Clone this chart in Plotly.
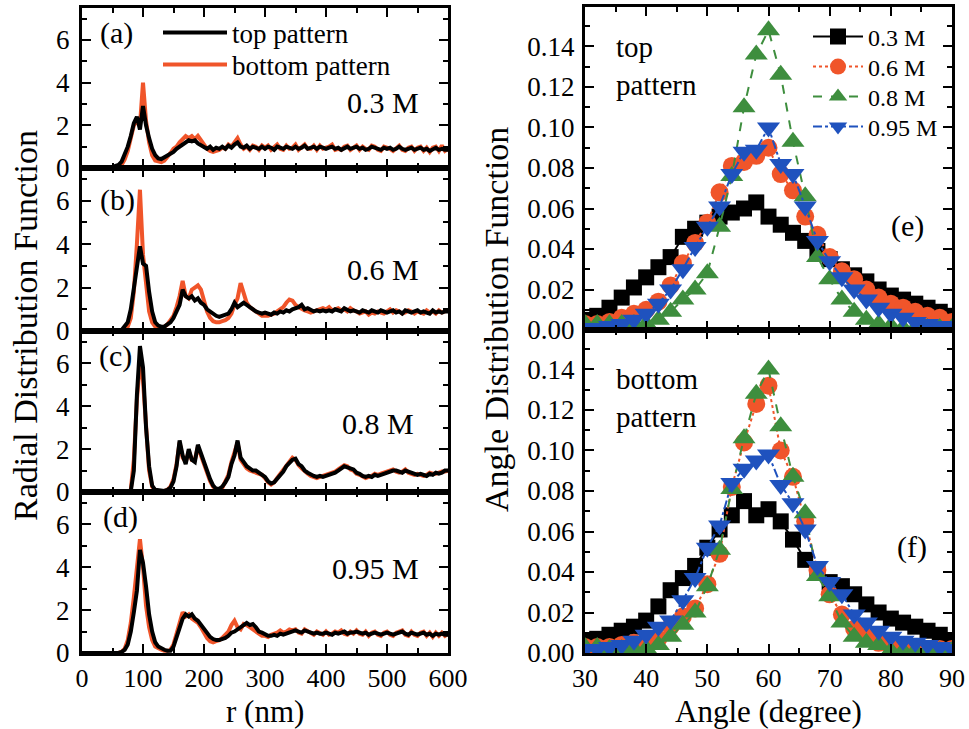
import plotly.graph_objects as go

W, H = 969, 729

# ---------------- data: radial distribution functions (r every 5 nm) ----------------
r_nm = list(range(0, 601, 5))

top_03 = [0, 0, 0, 0, 0, 0, 0, 0, 0, 0.02,
          0.05, 0.1, 0.15, 0.3, 0.6, 1.0, 1.5, 2.1, 2.4, 1.8,
          2.9, 2.0, 1.4, 0.9, 0.6, 0.45, 0.42, 0.5, 0.55, 0.65,
          0.75, 0.9, 1.0, 1.1, 1.2, 1.3, 1.25, 1.3, 1.15, 1.05,
          0.95, 0.9, 1.0, 0.85, 0.95, 0.9, 1.0, 0.9, 1.05, 0.95,
          1.1, 1.2, 1.0, 0.95, 1.05, 0.9, 1.0, 0.95, 0.9, 1.0,
          0.9, 1.0, 0.95, 0.85, 1.0, 0.95, 0.9, 1.0, 0.95, 0.9,
          1.0, 0.9, 0.95, 1.05, 0.9, 0.95, 1.0, 0.9, 1.0, 0.95,
          0.9, 0.95, 1.0, 0.9, 0.95, 0.85, 0.95, 1.0, 0.9, 0.95,
          1.0, 0.9, 0.95, 0.85, 0.9, 1.0, 0.95, 0.9, 0.85, 0.95,
          0.9, 0.95, 0.85, 0.9, 1.0, 0.9, 0.85, 0.9, 0.95, 0.85,
          0.9, 0.95, 0.85, 0.9, 0.8, 0.9, 0.95, 0.85, 0.9, 0.85,
          0.85]
bottom_03 = [0, 0, 0, 0, 0, 0, 0, 0, 0, 0,
             0, 0.02, 0.05, 0.15, 0.4, 0.8, 1.4, 2.0, 2.2, 2.0,
             4.0, 2.2, 1.2, 0.6, 0.35, 0.3, 0.28, 0.35, 0.5, 0.7,
             0.9, 1.0, 1.2, 1.35, 1.5, 1.4, 1.5, 1.35, 1.5, 1.3,
             1.1, 0.9, 0.8, 0.75, 0.8, 0.85, 0.95, 0.9, 1.1, 1.0,
             1.2, 1.4, 1.1, 0.9, 1.0, 0.85, 1.05, 1.0, 0.85, 1.05,
             0.95, 1.05, 0.85, 0.95, 1.1, 0.9, 0.85, 1.05, 0.9, 0.95,
             1.1, 0.85, 0.95, 1.1, 0.9, 0.9, 1.05, 0.85, 1.05, 0.9,
             0.95, 1.0, 1.1, 0.85, 0.9, 0.85, 1.0, 1.05, 0.85, 0.95,
             1.05, 0.85, 1.0, 0.9, 0.85, 1.05, 1.0, 0.85, 0.8, 1.0,
             0.95, 0.9, 0.8, 0.95, 1.05, 0.85, 0.8, 0.95, 1.0, 0.8,
             0.95, 1.0, 0.8, 0.95, 0.75, 0.95, 1.0, 0.8, 1.05, 0.8,
             0.9]

top_06 = [0, 0, 0, 0, 0, 0, 0, 0, 0, 0,
          0, 0, 0, 0.05, 0.2, 0.4, 1.0, 2.0, 3.0, 3.9,
          3.1, 3.0, 1.8, 0.9, 0.4, 0.25, 0.2, 0.2, 0.3, 0.4,
          0.6, 0.9, 1.2, 1.9, 1.6, 1.5, 1.6, 1.4, 1.5, 1.3,
          1.2, 1.0, 0.9, 0.75, 0.7, 0.65, 0.7, 0.75, 0.8, 1.0,
          1.3, 1.1, 1.2, 1.3, 1.2, 1.1, 0.95, 0.9, 0.85, 0.8,
          0.85, 0.8, 0.75, 0.85, 0.8, 0.9, 0.85, 0.95, 0.9, 1.0,
          1.05, 1.1, 1.2, 1.0, 1.05, 0.95, 0.9, 0.95, 0.9, 0.95,
          0.9, 0.95, 0.9, 1.0, 0.95, 0.9, 1.05, 0.95, 0.9, 0.95,
          0.9, 0.85, 0.95, 0.9, 0.85, 0.95, 0.9, 0.85, 0.95, 0.9,
          0.85, 0.9, 0.95, 0.85, 0.9, 0.8, 0.95, 0.9, 0.85, 0.9,
          0.95, 0.85, 0.9, 0.85, 0.8, 0.95, 0.85, 0.9, 0.85, 0.9,
          0.9]
bottom_06 = [0, 0, 0, 0, 0, 0, 0, 0, 0, 0,
             0, 0, 0, 0, 0.05, 0.2, 0.6, 1.8, 4.0, 6.5,
             3.5, 2.0, 0.9, 0.4, 0.2, 0.15, 0.15, 0.2, 0.3, 0.5,
             0.7, 1.1, 1.6, 2.3, 1.6, 1.5, 1.9, 2.0, 2.1, 1.9,
             1.3, 0.9, 0.6, 0.45, 0.4, 0.4, 0.45, 0.5, 0.6, 0.8,
             1.2, 1.5, 2.2, 1.7, 1.3, 1.1, 1.0, 0.9, 0.8, 0.7,
             0.7, 0.7, 0.75, 0.8, 0.9, 1.0, 1.1, 1.3, 1.45, 1.4,
             1.2, 1.1, 1.0, 0.95, 0.9, 0.85, 0.9, 0.95, 1.0, 1.05,
             1.0, 1.1, 0.95, 1.0, 1.05, 0.95, 1.0, 0.9, 1.05, 0.95,
             0.9, 0.8, 0.85, 0.9, 0.75, 0.85, 0.8, 0.9, 0.85, 0.8,
             0.9, 1.0, 0.85, 0.95, 0.9, 0.8, 0.85, 0.95, 0.9, 0.8,
             0.9, 0.85, 0.8, 0.95, 0.85, 0.9, 0.8, 0.95, 0.85, 0.9,
             0.95]

top_08 = [0, 0, 0, 0, 0, 0, 0, 0, 0, 0,
          0, 0, 0, 0, 0, 0, 0.05, 1.0, 4.5, 6.8,
          5.8, 3.0, 1.2, 0.3, 0.1, 0.08, 0.08, 0.05, 0.1, 0.2,
          0.5, 1.2, 2.4, 1.7, 1.3, 2.0, 1.5, 1.4, 2.2, 1.8,
          1.4, 0.9, 0.6, 0.3, 0.15, 0.15, 0.25, 0.45, 0.7, 1.3,
          1.7, 2.4, 1.6, 1.4, 1.2, 1.1, 1.0, 1.0, 0.9, 0.85,
          0.7, 0.5, 0.4, 0.45, 0.6, 0.8, 0.95, 1.2, 1.35, 1.5,
          1.55, 1.3, 1.2, 1.0, 0.9, 0.8, 0.75, 0.7, 0.75, 0.7,
          0.75, 0.8, 0.85, 0.9, 1.0, 1.1, 1.2, 1.15, 1.1, 1.05,
          0.9, 0.85, 0.75, 0.7, 0.75, 0.7, 0.8, 0.75, 0.8, 0.85,
          0.9, 0.95, 1.0, 1.0, 0.95, 0.9, 1.0, 0.95, 0.9, 0.85,
          0.8, 0.85, 0.8, 0.75, 0.85, 0.8, 0.9, 0.85, 0.9, 1.0,
          1.0]
bottom_08 = [0, 0, 0, 0, 0, 0, 0, 0, 0, 0,
             0, 0, 0, 0, 0, 0, 0.1, 1.5, 4.3, 6.0,
             5.2, 2.8, 1.0, 0.25, 0.08, 0.05, 0.05, 0.05, 0.1, 0.25,
             0.6, 1.3, 2.3, 1.6, 1.4, 1.9, 1.5, 1.5, 2.1, 1.7,
             1.3, 0.8, 0.5, 0.25, 0.12, 0.12, 0.2, 0.5, 0.8, 1.4,
             1.8, 2.3, 1.5, 1.3, 1.1, 1.0, 0.95, 0.9, 0.85, 0.8,
             0.65, 0.45, 0.35, 0.45, 0.65, 0.85, 1.0, 1.25, 1.4, 1.6,
             1.5, 1.25, 1.1, 0.95, 0.85, 0.75, 0.7, 0.65, 0.7, 0.75,
             0.8, 0.85, 0.9, 0.95, 1.05, 1.15, 1.25, 1.2, 1.05, 1.0,
             0.85, 0.8, 0.7, 0.65, 0.7, 0.75, 0.85, 0.8, 0.85, 0.9,
             0.95, 1.0, 1.05, 0.95, 0.9, 0.95, 1.05, 0.9, 0.85, 0.8,
             0.85, 0.8, 0.75, 0.8, 0.9, 0.85, 0.85, 0.9, 0.95, 0.95,
             1.0]

top_095 = [0, 0, 0, 0, 0, 0, 0, 0, 0, 0,
           0, 0, 0, 0.05, 0.15, 0.4, 1.0, 1.9, 2.9, 4.8,
           4.2, 3.1, 1.8, 1.0, 0.5, 0.3, 0.2, 0.15, 0.1, 0.1,
           0.3, 0.7, 1.2, 1.6, 1.8, 1.7, 1.8, 1.6, 1.5, 1.3,
           1.1, 0.9, 0.75, 0.65, 0.6, 0.6, 0.65, 0.7, 0.8, 0.95,
           1.0, 1.1, 1.2, 1.3, 1.4, 1.3, 1.35, 1.2, 1.0, 0.95,
           0.85, 0.8, 0.8, 0.85, 0.8, 0.9, 0.85, 0.9, 0.95, 1.0,
           1.05, 1.0, 0.95, 1.05, 1.0, 0.95, 0.9, 0.95, 0.9, 0.9,
           0.95, 0.9, 0.85, 0.95, 0.9, 0.95, 1.0, 0.9, 0.95, 0.95,
           1.0, 0.95, 0.9, 0.95, 0.85, 0.9, 0.95, 0.9, 0.85, 0.9,
           0.95, 0.9, 0.85, 0.9, 0.95, 1.0, 0.9, 0.85, 0.95, 0.9,
           0.85, 0.9, 0.95, 0.85, 0.9, 0.8, 0.9, 0.85, 0.9, 0.85,
           0.85]
bottom_095 = [0, 0, 0, 0, 0, 0, 0, 0, 0, 0,
              0, 0, 0, 0.05, 0.2, 0.6, 1.4, 2.6, 4.0, 5.3,
              4.0, 2.2, 1.2, 0.6, 0.3, 0.2, 0.15, 0.1, 0.1, 0.15,
              0.4, 0.9, 1.5, 1.9, 1.7, 1.8, 1.6, 1.5, 1.4, 1.2,
              0.9, 0.7, 0.55, 0.5, 0.55, 0.6, 0.7, 0.85, 1.0, 1.3,
              1.5, 1.2, 1.1, 1.35, 1.3, 1.2, 1.1, 1.0, 0.9, 0.8,
              0.8, 0.75, 0.85, 0.9, 0.95, 1.05, 0.95, 1.0, 1.1, 1.05,
              1.1, 0.95, 0.9, 1.1, 1.0, 0.9, 0.85, 1.0, 0.95, 0.85,
              1.0, 0.85, 0.9, 1.0, 0.95, 1.05, 0.9, 0.85, 1.0, 0.9,
              1.05, 0.9, 0.85, 1.0, 0.8, 0.95, 1.0, 0.85, 0.8, 0.95,
              1.0, 0.85, 0.8, 0.95, 1.0, 1.05, 0.85, 0.8, 1.0, 0.85,
              0.8, 0.95, 1.0, 0.8, 0.95, 0.75, 0.95, 0.8, 0.95, 0.8,
              0.9]

# ---------------- data: angle distribution functions (every 2 degrees) ----------------
angle_deg = list(range(30, 91, 2))

top_adf_03 = [0.005, 0.007, 0.011, 0.016, 0.021, 0.026, 0.031, 0.036, 0.046, 0.050,
              0.053, 0.056, 0.058, 0.060, 0.063, 0.056, 0.052, 0.048, 0.044, 0.039,
              0.035, 0.030, 0.027, 0.024, 0.020, 0.017, 0.015, 0.013, 0.011, 0.009,
              0.007]
top_adf_06 = [0.003, 0.003, 0.004, 0.006, 0.008, 0.010, 0.014, 0.022, 0.033, 0.043,
              0.053, 0.068, 0.081, 0.083, 0.086, 0.090, 0.077, 0.069, 0.056, 0.047,
              0.036, 0.029, 0.025, 0.020, 0.016, 0.013, 0.011, 0.009, 0.007, 0.006,
              0.004]
top_adf_08 = [0.003, 0.003, 0.003, 0.003, 0.003, 0.003, 0.005, 0.009, 0.015, 0.020,
              0.028, 0.051, 0.076, 0.110, 0.136, 0.148, 0.126, 0.093, 0.066, 0.036,
              0.025, 0.015, 0.009, 0.005, 0.003, 0.002, 0.001, 0.001, 0.001, 0.001,
              0.001]
top_adf_095 = [0.001, 0.001, 0.002, 0.003, 0.005, 0.008, 0.013, 0.020, 0.030, 0.041,
               0.051, 0.061, 0.077, 0.088, 0.089, 0.100, 0.082, 0.077, 0.061, 0.044,
               0.034, 0.026, 0.020, 0.015, 0.011, 0.008, 0.006, 0.004, 0.003, 0.002,
               0.002]

bottom_adf_03 = [0.006, 0.007, 0.009, 0.011, 0.013, 0.016, 0.023, 0.031, 0.037, 0.043,
                 0.052, 0.061, 0.068, 0.075, 0.068, 0.071, 0.065, 0.056, 0.046, 0.040,
                 0.035, 0.033, 0.029, 0.024, 0.020, 0.017, 0.015, 0.013, 0.011, 0.009,
                 0.006]
bottom_adf_06 = [0.003, 0.003, 0.003, 0.004, 0.005, 0.006, 0.007, 0.013, 0.018, 0.022,
                 0.034, 0.049, 0.082, 0.104, 0.123, 0.132, 0.100, 0.087, 0.065, 0.041,
                 0.029, 0.019, 0.012, 0.008, 0.005, 0.003, 0.002, 0.002, 0.002, 0.002,
                 0.002]
bottom_adf_08 = [0.003, 0.003, 0.002, 0.002, 0.002, 0.002, 0.004, 0.008, 0.014, 0.020,
                 0.033, 0.051, 0.081, 0.106, 0.128, 0.140, 0.112, 0.087, 0.069, 0.038,
                 0.028, 0.015, 0.008, 0.005, 0.004, 0.001, 0.001, 0.001, 0.001, 0.001,
                 0.001]
bottom_adf_095 = [0.002, 0.002, 0.003, 0.004, 0.006, 0.009, 0.013, 0.016, 0.026, 0.037,
                  0.052, 0.063, 0.084, 0.091, 0.095, 0.098, 0.083, 0.074, 0.061, 0.043,
                  0.035, 0.029, 0.019, 0.015, 0.011, 0.008, 0.006, 0.005, 0.004, 0.003,
                  0.002]

concentrations = ["0.3 M", "0.6 M", "0.8 M", "0.95 M"]
rdf_labels = ["0.3 M", "0.6 M", "0.8 M", "0.95 M"]
panel_letters = ["(a)", "(b)", "(c)", "(d)"]

for s in [top_03, bottom_03, top_06, bottom_06, top_08, bottom_08, top_095, bottom_095]:
    assert len(s) == len(r_nm), len(s)
for s in [top_adf_03, top_adf_06, top_adf_08, top_adf_095,
          bottom_adf_03, bottom_adf_06, bottom_adf_08, bottom_adf_095]:
    assert len(s) == len(angle_deg), len(s)

# ---------------- styling ----------------
FONT = "Liberation Serif"
BLACK = "#000000"
RED = "#F0552A"
GREEN = "#3E8E3E"
BLUE = "#1F52BE"


def fx(p):
    return p / W


def fy(p):
    return 1 - p / H


fig = go.Figure()

rdf_pairs = [(top_03, bottom_03), (top_06, bottom_06), (top_08, bottom_08), (top_095, bottom_095)]
for i, (top, bot) in enumerate(rdf_pairs):
    suffix = "" if i == 0 else str(i + 1)
    fig.add_trace(go.Scatter(x=r_nm, y=bot, mode="lines", name="bottom pattern",
                             line=dict(color=RED, width=4), showlegend=(i == 0),
                             legend="legend2",
                             xaxis="x" + suffix, yaxis="y" + suffix))
    fig.add_trace(go.Scatter(x=r_nm, y=top, mode="lines", name="top pattern",
                             line=dict(color=BLACK, width=4), showlegend=(i == 0),
                             legend="legend",
                             xaxis="x" + suffix, yaxis="y" + suffix))

adf_styles = [
    dict(color=BLACK, symbol="square", size=16, dash="solid"),
    dict(color=RED, symbol="circle", size=18, dash="dot"),
    dict(color=GREEN, symbol="triangle-up", size=20, dash="dash"),
    dict(color=BLUE, symbol="triangle-down", size=20, dash="dashdot"),
]
adf_sets = [
    ([top_adf_03, top_adf_06, top_adf_08, top_adf_095], "5"),
    ([bottom_adf_03, bottom_adf_06, bottom_adf_08, bottom_adf_095], "6"),
]
for k, (series, suffix) in enumerate(adf_sets):
    for j, ys in enumerate(series):
        st = adf_styles[j]
        fig.add_trace(go.Scatter(
            x=angle_deg, y=ys, mode="lines+markers", name=concentrations[j],
            line=dict(color=st["color"], width=2, dash=st["dash"]),
            marker=dict(symbol=st["symbol"], size=st["size"], color=st["color"],
                        line=dict(width=0)),
            showlegend=(k == 0), legend="legend" + str(3 + j),
            xaxis="x" + suffix, yaxis="y" + suffix))

common = dict(showline=True, linecolor="black", linewidth=3, mirror="ticks",
              ticks="inside", ticklen=9, tickwidth=2, tickcolor="black",
              showgrid=False, zeroline=False, automargin=False,
              tickfont=dict(family=FONT, size=27, color="black"))
xtickfont = dict(family=FONT, size=26, color="black")


def minor(dt):
    return dict(ticks="inside", ticklen=5, tickwidth=2, tickcolor="black",
                dtick=dt, showgrid=False)


left_x = (82, 448)
right_x = (585, 952)
left_rows = [(8, 168), (168, 331), (331, 492), (492, 653)]
right_rows = [(7, 330), (330, 653)]

layout = dict(width=W, height=H, margin=dict(l=0, r=0, t=0, b=0),
              paper_bgcolor="white", plot_bgcolor="white",
              font=dict(family=FONT, color="black"))

for i, (t, b) in enumerate(left_rows):
    suffix = "" if i == 0 else str(i + 1)
    layout["xaxis" + suffix] = dict(common, domain=[fx(left_x[0]), fx(left_x[1])],
                                    range=[0, 600], dtick=100, tick0=0, minor=minor(50),
                                    anchor="y" + suffix, showticklabels=(i == 3),
                                    ticklabelstandoff=0, tickfont=xtickfont)
    layout["yaxis" + suffix] = dict(common, domain=[fy(b), fy(t)], range=[0, 7.5],
                                    dtick=2, tick0=0, minor=minor(1),
                                    anchor="x" + suffix, ticklabelstandoff=4)

for k, (t, b) in enumerate(right_rows):
    suffix = str(5 + k)
    layout["xaxis" + suffix] = dict(common, domain=[fx(right_x[0]), fx(right_x[1])],
                                    range=[30, 90], dtick=10, tick0=30, minor=minor(5),
                                    anchor="y" + suffix, showticklabels=(k == 1),
                                    ticklabelstandoff=0, tickfont=xtickfont)
    layout["yaxis" + suffix] = dict(common, domain=[fy(b), fy(t)], range=[0, 0.1595],
                                    dtick=0.02, tick0=0, tickformat=".2f", minor=minor(0.01),
                                    anchor="x" + suffix, ticklabelstandoff=2)

# one legend per entry so that each row sits where the reference shows it
legend_rows = [("legend", 158, 33, 27, 64), ("legend2", 158, 65, 27, 64),
               ("legend3", 808, 37, 24, 50), ("legend4", 808, 67, 24, 50),
               ("legend5", 808, 97, 24, 50), ("legend6", 808, 127, 24, 50)]
for name, lx, ly, fs, iw in legend_rows:
    layout[name] = dict(x=fx(lx), y=fy(ly), xanchor="left", yanchor="middle",
                        bgcolor="rgba(0,0,0,0)", font=dict(family=FONT, size=fs),
                        itemwidth=iw)

annotations = []


def note(text, x, y, size=28, xanchor="center", align="center", angle=0):
    annotations.append(dict(text=text, x=fx(x), y=fy(y), xref="paper", yref="paper",
                            showarrow=False, xanchor=xanchor, yanchor="middle",
                            align=align, textangle=angle, borderpad=0,
                            font=dict(family=FONT, size=size, color="black")))


letter_pos = [(116, 33), (117, 200), (115, 356), (120, 517)]
label_pos = [(383, 102), (383, 269), (378, 423), (375, 568)]
for i in range(4):
    note(panel_letters[i], *letter_pos[i], size=30)
    note(rdf_labels[i], *label_pos[i], size=30)

note("top<br>pattern", 615, 66, size=29, xanchor="left", align="left")
note("(e)", 907, 226, size=30)
note("bottom<br>pattern", 615, 398, size=29, xanchor="left", align="left")
note("(f)", 912, 547, size=30)

note("r (nm)", 265, 711.5, size=31)
note("Angle (degree)", 768, 711.5, size=31)
note("Radial Distribution Function", 25, 326, size=34, angle=-90)
note("Angle Distribution Function", 497, 320, size=34, angle=-90)

layout["annotations"] = annotations
fig.update_layout(**layout)

fig.write_html("out.html")
